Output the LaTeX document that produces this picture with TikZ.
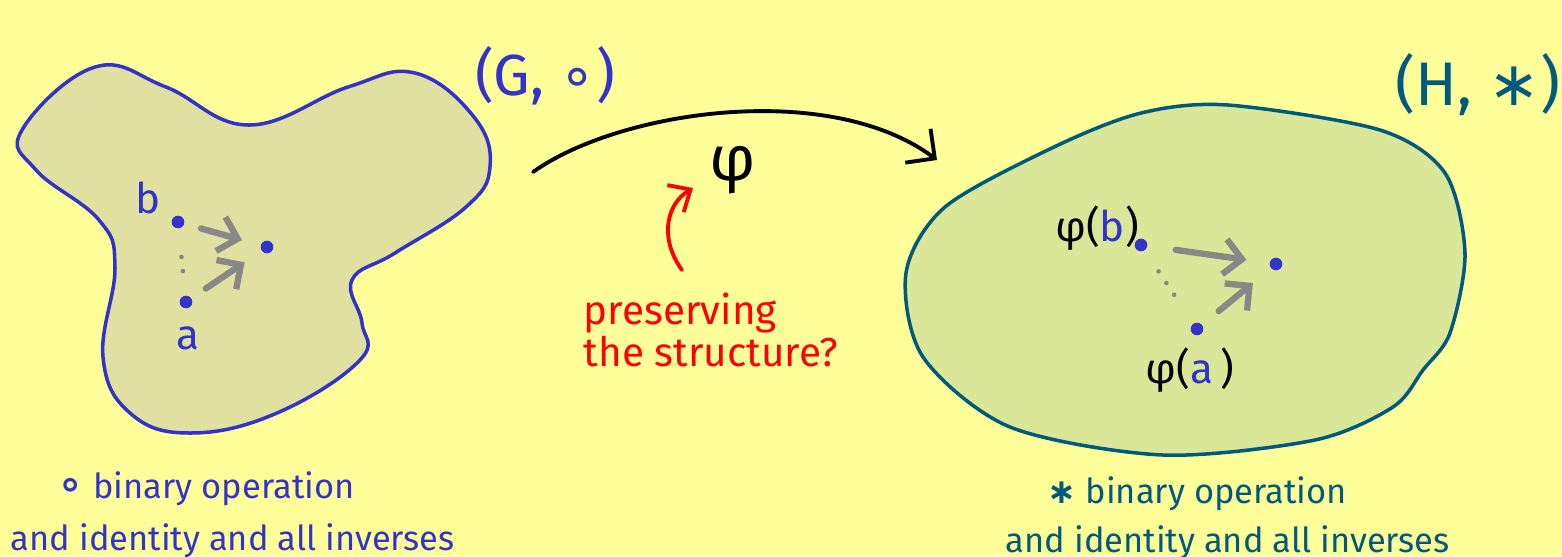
\documentclass[tikz,border=0pt]{standalone}
\usepackage{fontspec}
\setmainfont{Fira Sans}
\newfontfamily\symfont{DejaVu Sans}
\usetikzlibrary{arrows.meta,positioning}
\definecolor{bgyellow}{RGB}{255,255,153}
\definecolor{gblue}{RGB}{51,51,204}
\definecolor{gfill}{RGB}{224,224,160}
\definecolor{hteal}{RGB}{0,90,125}
\definecolor{hfill}{RGB}{218,230,152}
\definecolor{ptgray}{RGB}{136,136,136}
\definecolor{askred}{RGB}{255,0,0}

\begin{document}
\begin{tikzpicture}[
  x=0.01cm, y=-0.01cm,
  blob/.style={line width=1pt},
  pt/.style={circle, fill=gblue, inner sep=0pt, minimum size=3.6pt},
  lbl/.style={font=\fontsize{12}{14}\selectfont, inner sep=1pt},
  opedge/.style={ptgray, line width=1.8pt, line cap=round, -{Straight Barb[length=5pt,width=10pt]}},
  dotline/.style={ptgray, line width=1.3pt, line cap=round, dash pattern=on 0pt off 4pt},
  groupname/.style={font=\fontsize{16.5}{20}\selectfont, inner sep=0pt},
  caption/.style={font=\fontsize{9.8}{12}\selectfont, inner sep=0pt, anchor=base west}
]

% Background
\fill[bgyellow] (0,0) rectangle (1562,556);
\useasboundingbox (0,0) rectangle (1562,556);

% Group G
\draw[blob, gblue, fill=gfill] plot[smooth cycle, tension=0.7] coordinates {(95,67) (166,87) (249,125) (348,87) (415,73) (474,117) (490,167) (466,207) (395,253) (352,280) (362,323) (360,360) (277,413) (190,433) (130,413) (103,357) (115,267) (99,220) (36,170) (22,130)};
\node[groupname, gblue] (gname) at (545,76) {(G, {\symfont ∘})};

\node[pt] (b) at (178,222) {};
\node[pt] (ab) at (267,247) {};
\node[pt] (a) at (186,302) {};
\node[lbl, gblue] (blbl) at (148,198) {b};
\node[lbl, gblue] (albl) at (188,338) {a};
\draw[opedge, shorten <=4.8pt, shorten >=5.4pt] (b) -- (ab);
\draw[opedge, shorten <=4.8pt, shorten >=5.7pt] (a) -- (ab);
\draw[dotline, shorten <=8pt, shorten >=6pt] (b) -- (a);

% Group H
\draw[blob, hteal, fill=hfill] plot[smooth cycle] coordinates {(1228,105) (1380,130) (1445,173) (1465,253) (1450,333) (1423,370) (1393,407) (1315,440) (1163,455) (1010,427) (923,357) (906,273) (945,207) (1054,147) (1141,113)};
\node[groupname, hteal, font=\fontsize{17.5}{22}\selectfont] (hname) at (1478,85) {(H, {\symfont ∗})};

\node[pt] (pb) at (1141,245) {};
\node[pt] (pab) at (1276,264) {};
\node[pt] (pa) at (1197,329) {};
\node[lbl] (pblbl) at (1097,228) {φ(\textcolor{gblue}{b})};
\node[lbl] (palbl) at (1190,370) {φ(\textcolor{gblue}{a}\,)};
\draw[opedge, shorten <=8pt, shorten >=6.5pt] (pb) -- (pab);
\draw[opedge, shorten <=6pt, shorten >=6.5pt] (pa) -- (pab);
\draw[dotline, shorten <=7pt, shorten >=7pt] (pb) -- (pa);

% The map
\coordinate (phistart) at (533,172);
\coordinate (phiend) at (937,160);
\draw[line width=1.1pt, line cap=round, -{Straight Barb[length=6pt,width=12pt]}] (phistart) .. controls (620,110) and (830,80) .. (phiend);
\node[font=\fontsize{18}{20}\selectfont] (phi) at (733,170) {φ};

% Question
\node[askred, font=\fontsize{11.5}{11}\selectfont, align=left, anchor=north west, inner sep=0pt] (ask) at (583,292) {preserving\\the structure?};
\coordinate (askfrom) at (682,270);
\coordinate (askto) at (693,188);
\draw[askred, line width=1.1pt, line cap=round, -{Straight Barb[length=5pt,width=9pt]}] (askfrom) .. controls (660,240) and (665,205) .. (askto);

% Captions
\node[caption, gblue] (gop) at (57,498) {{\symfont\bfseries\large ∘} binary operation};
\node[caption, gblue] (gax) at (10,550) {and identity and all inverses};
\node[caption, hteal] (hop) at (1047,503) {{\symfont\bfseries ∗} binary operation};
\node[caption, hteal] (hax) at (1005,552) {and identity and all inverses};

\end{tikzpicture}
\end{document}
